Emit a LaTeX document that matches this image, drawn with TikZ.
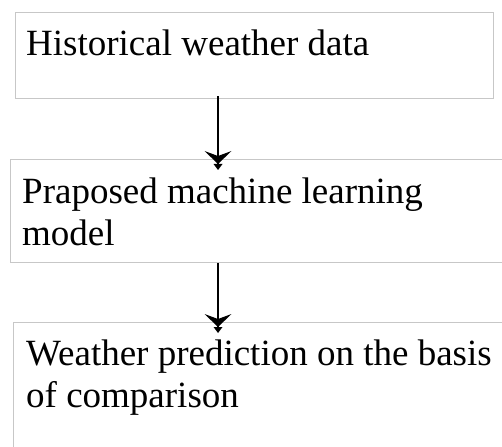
\documentclass[tikz,border=0pt]{standalone}
\usepackage{fontspec}
\setmainfont{Liberation Serif}
\usetikzlibrary{arrows.meta}

\begin{document}
\begin{tikzpicture}[x=1pt,y=-1pt,
    box/.style={draw=black!22, line width=1.3pt, rectangle, anchor=north west, inner sep=0pt},
    txt/.style={anchor=north west, inner sep=0pt, align=left, font=\fontsize{37}{41.5}\selectfont},
    flow/.style={line width=1.9pt, -{Stealth[length=13pt,width=27pt,inset=5pt,line width=0pt] Triangle[length=6pt,width=9pt,sep=-3pt,line width=0pt]}}]
  \useasboundingbox (0,0) rectangle (502,446);
  \clip (0,0) rectangle (502,446);
  \node[box, minimum width=478pt, minimum height=86pt] at (15,12) (hist) {};
  \node[box, minimum width=520pt, minimum height=103pt] at (10,159) (model) {};
  \node[box, minimum width=520pt, minimum height=160pt] at (13,322) (pred) {};
  \node[txt] at (26,29.7) (histtext) {Historical weather data};
  \node[txt] at (22,177.7) (modeltext) {Praposed machine learning\\model};
  \node[txt] at (26,339.7) (predtext) {Weather prediction on the basis\\of comparison};
  \draw[flow] ([xshift=203pt,yshift=3pt]hist.south west) -- ([xshift=208pt,yshift=-8pt]model.north west);
  \draw[flow] ([xshift=208pt]model.south west) -- ([xshift=205pt,yshift=-8pt]pred.north west);
\end{tikzpicture}
\end{document}
